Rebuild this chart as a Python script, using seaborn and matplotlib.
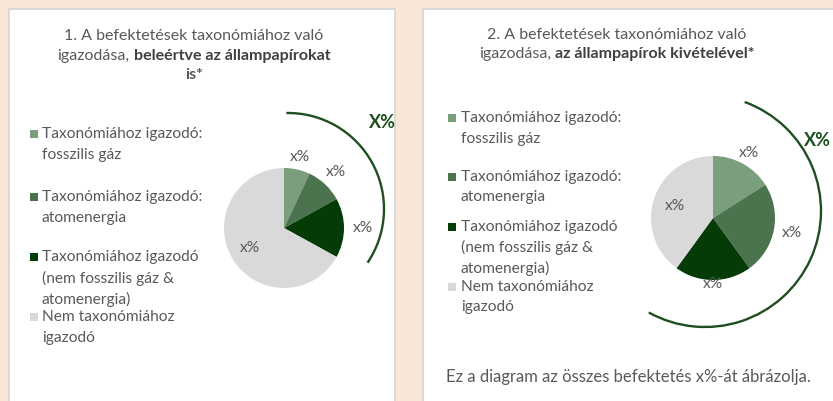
import matplotlib
matplotlib.use('Agg')
import matplotlib.pyplot as plt
from matplotlib.patches import Rectangle, Arc
import numpy as np
import seaborn as sns

# adatok
categories = ['Taxonómiához igazodó:\nfosszilis gáz',
              'Taxonómiához igazodó:\natomenergia',
              'Taxonómiához igazodó\n(nem fosszilis gáz &\natomenergia)',
              'Nem taxonómiához\nigazodó']
share_incl = [7, 10, 16, 67]    # 1. diagram, állampapírokkal
share_excl = [16, 24, 20, 40]   # 2. diagram, állampapírok nélkül
slice_labels = ['x%', 'x%', 'x%', 'x%']
aligned_label = 'X%'
title1 = [('1. A befektetések taxonómiához való', 'normal'),
          ('igazodása, |beleértve az állampapírokat', 'mixed'),
          ('is*', 'bold')]
title2 = [('2. A befektetések taxonómiához való', 'normal'),
          ('igazodása, |az állampapírok kivételével*', 'mixed')]
footnote = 'Ez a diagram az összes befektetés x%-át ábrázolja.'
colors = ['#7b9e7c', '#4b744e', '#053b07', '#d9d9d9']

W, H = 833, 401
GRAY = '#595959'
GREEN = '#1f4f1f'

sns.set_theme(style='white')
plt.rcParams['font.family'] = ['Lato', 'DejaVu Sans']

fig = plt.figure(figsize=(W / 100, H / 100), dpi=100)
fig.patch.set_facecolor('#fae6d6')
ax = fig.add_axes([0, 0, 1, 1])
ax.set_facecolor('none')
ax.axis('off')
renderer = fig.canvas.get_renderer()


def Y(y):
    # képernyő y -> adat y
    return H - y


def width(t):
    return t.get_window_extent(renderer).width


def title_line(xc, y, text, kind, size=11.5):
    if kind != 'mixed':
        ax.text(xc, Y(y), text, ha='center', va='center', fontsize=size, color=GRAY,
                fontweight='bold' if kind == 'bold' else 'normal')
        return
    a, b = text.split('|')
    t1 = ax.text(0, Y(y), a.strip(), ha='left', va='center', fontsize=size, color=GRAY)
    t2 = ax.text(0, Y(y), b, ha='left', va='center', fontsize=size, color='#404040',
                 fontweight='bold')
    sp = ax.text(0, 0, 'x x', fontsize=size)
    sp2 = ax.text(0, 0, 'xx', fontsize=size)
    space = width(sp) - width(sp2)
    sp.remove()
    sp2.remove()
    total = width(t1) + space + width(t2)
    x0 = xc - total / 2
    t1.set_x(x0)
    t2.set_x(x0 + width(t1) + space)


def legend(x_sq, x_txt, first_y, step):
    for cat, col, y in zip(categories, colors, first_y):
        ax.add_patch(Rectangle((x_sq, Y(y) - 4), 8, 8, color=col, lw=0))
        for i, line in enumerate(cat.split('\n')):
            ax.text(x_txt, Y(y + i * step), line, ha='left', va='center',
                    fontsize=11.2, color=GRAY)


def pie(values, cx, cy, r, dists):
    wedges, _ = ax.pie(values, colors=colors, startangle=90, counterclock=False,
                       center=(cx, Y(cy)), radius=r, wedgeprops=dict(linewidth=0))
    for w, lab, d in zip(wedges, slice_labels, dists):
        th = np.deg2rad((w.theta1 + w.theta2) / 2)
        ax.text(cx + d * r * np.cos(th), Y(cy) + d * r * np.sin(th), lab,
                ha='center', va='center', fontsize=11.2, color=GRAY)


# panelek
ax.add_patch(Rectangle((9, -5), 386, Y(9) + 5, facecolor='white', edgecolor='#d6d6d6', lw=1.2))
ax.add_patch(Rectangle((423, -5), 420, Y(9) + 5, facecolor='white', edgecolor='#d6d6d6', lw=1.2))

# 1. diagram
for (txt, kind), y in zip(title1, [36, 56, 75]):
    title_line(194, y, txt, kind)
legend(30, 42, [134, 197, 257, 317], 21)
pie(share_incl, 284, 228, 60, [1.22, 1.27, 1.32, 0.67])
ax.add_patch(Arc((288, Y(209)), 192, 192, theta1=-34, theta2=91, color=GREEN, lw=1.7))
ax.text(369, Y(123), aligned_label, ha='left', va='center', fontsize=13,
        fontweight='bold', color=GREEN)

# 2. diagram
for (txt, kind), y in zip(title2, [35, 54]):
    title_line(617, y, txt, kind)
legend(448, 461, [118, 177, 227, 287], 20.5)
pie(share_excl, 713, 218, 62, [1.2, 1.3, 1.07, 0.64])
ax.add_patch(Arc((705, Y(211)), 232, 232, theta1=-119, theta2=70, color=GREEN, lw=1.7))
ax.text(W - 2, Y(140), aligned_label, ha='right', va='center', fontsize=13,
        fontweight='bold', color=GREEN)
ax.text(446, Y(377), footnote, ha='left', va='center', fontsize=12, color=GRAY)

ax.set_xlim(0, W)
ax.set_ylim(0, H)
ax.set_aspect('auto')

fig.savefig('out.png', dpi=100, facecolor=fig.get_facecolor())
